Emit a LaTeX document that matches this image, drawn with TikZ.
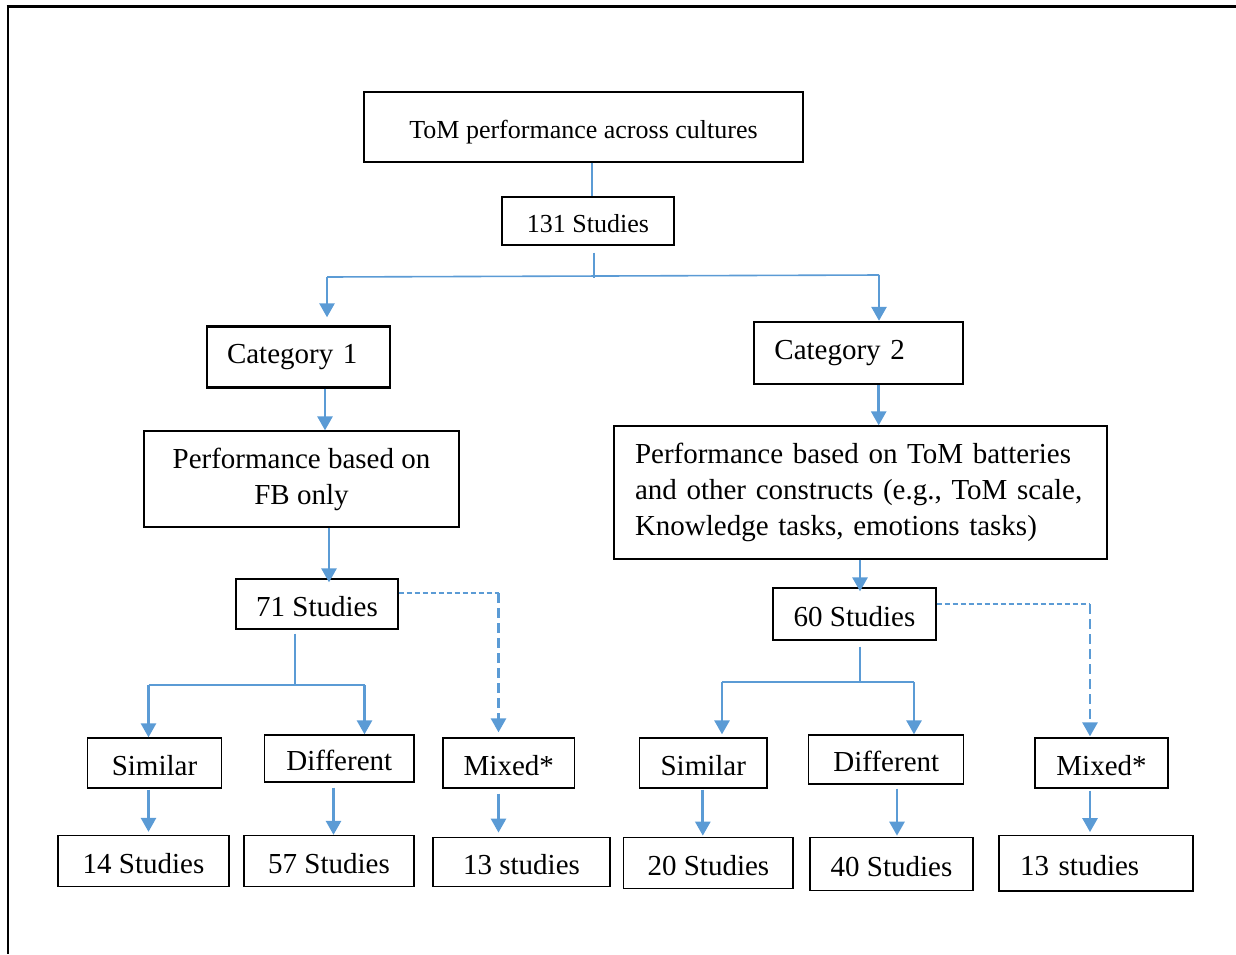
\documentclass[tikz,border=0pt]{standalone}
\usepackage{fontspec}
\setmainfont{Liberation Serif}
\usetikzlibrary{arrows.meta}
\definecolor{blu}{RGB}{91,155,213}
\begin{document}
\begin{tikzpicture}[x=1pt,y=-1pt,
  box/.style={draw=black, line width=1.3pt, inner sep=0pt, font=\fontsize{29}{36}\selectfont, align=center},
  onel/.style={box, text height=24pt, text depth=0pt},
  smallbox/.style={box, font=\fontsize{26}{32}\selectfont, text height=22pt, text depth=0pt},
  catbox/.style={box, line width=2.4pt},
  lnk/.style={draw=blu, line width=1.6pt},
  arr/.style={draw=blu, line width=2.7pt, -{Triangle[length=14pt,width=15pt]}},
  dshh/.style={draw=blu, line width=1.6pt, dash pattern=on 5pt off 3pt},
  dshv/.style={draw=blu, line width=2.7pt, dash pattern=on 10pt off 5pt, -{Triangle[length=14pt,width=15pt]}},
]
\useasboundingbox (0,0) rectangle (1236,954);
% outer frame (top and left only)
\draw[line width=3pt] (6.5,6.5) -- (1236,6.5);
\draw[line width=2pt] (8,5) -- (8,954);

% nodes
\node[smallbox, minimum width=439pt, minimum height=70pt] (title) at (583.5,127) {ToM performance across cultures};
\node[smallbox, minimum width=172pt, minimum height=48pt] (s131) at (588,221) {131 Studies};
\node[catbox, minimum width=183pt, minimum height=61pt, text width=143pt, align=left] (cat1) at (298.5,357) {Category 1};
\node[catbox, minimum width=208.7pt, minimum height=62pt, text width=168pt, align=left] (cat2) at (858.4,353) {Category 2};
\node[box, minimum width=315pt, minimum height=96pt] (fb) at (301.5,479) {Performance based on\\FB only};
\node[box, minimum width=493pt, minimum height=133pt, text width=451pt, align=left] (tomb) at (860.5,492.5) {Performance based on ToM batteries\\and other constructs (e.g., ToM scale,\\Knowledge tasks, emotions tasks)};
\node[onel, minimum width=162pt, minimum height=50pt] (s71) at (317,604) {71 Studies};
\node[onel, minimum width=163pt, minimum height=52pt] (s60) at (854.5,614) {60 Studies};
\node[onel, minimum width=134pt, minimum height=50pt] (simL) at (154.5,763) {Similar};
\node[onel, minimum width=149.5pt, minimum height=47pt] (difL) at (339.3,758.5) {Different};
\node[onel, minimum width=131.6pt, minimum height=50pt] (mixL) at (508.8,763) {Mixed*};
\node[onel, minimum width=127.5pt, minimum height=50pt] (simR) at (703.3,763) {Similar};
\node[onel, minimum width=155pt, minimum height=49pt] (difR) at (886.3,759.5) {Different};
\node[onel, minimum width=133pt, minimum height=50pt] (mixR) at (1101.5,763) {Mixed*};
\node[onel, minimum width=171pt, minimum height=51pt] (n14) at (143.5,861) {14 Studies};
\node[onel, minimum width=170pt, minimum height=51pt] (n57) at (329,861) {57 Studies};
\node[onel, minimum width=177pt, minimum height=49.5pt] (n13L) at (521.5,862) {13 studies};
\node[onel, minimum width=169.3pt, minimum height=51.4pt] (n20) at (708.4,863) {20 Studies};
\node[onel, minimum width=163pt, minimum height=53.4pt] (n40) at (891.5,864) {40 Studies};
\node[onel, minimum width=194pt, minimum height=55.3pt, text width=152pt, align=left] (n13R) at (1096,863.4) {13 studies};

% rail / junction coordinates
\coordinate (a0) at (592,0);
\coordinate (b0) at (594,278);
\coordinate (bL) at (327,277);
\coordinate (bR) at (879,275);
\coordinate (xA) at (325,0);
\coordinate (xB) at (878.7,0);
\coordinate (xC) at (329,0);
\coordinate (xD) at (860,0);
\coordinate (bar71) at (295,685);
\coordinate (xF) at (148.5,0);
\coordinate (xG) at (364.5,0);
\coordinate (xH) at (498.5,0);
\coordinate (xI) at (333.5,0);
\coordinate (bar60) at (860,682);
\coordinate (xJ) at (722,0);
\coordinate (xK) at (914,0);
\coordinate (xL) at (1090,0);
\coordinate (xM) at (702.8,0);
\coordinate (xN) at (897,0);
\coordinate (d1) at (498.5,593);
\coordinate (d2) at (1090,604);

% top part
\draw[lnk] (title.south -| a0) -- (s131.north -| a0);
\draw[lnk, shorten <=7pt] (s131.south -| b0) -- (b0);
\draw[lnk] (bL) -- (bR);
\draw[arr, shorten >=8pt] (bL) -- (bL |- cat1.north);
\draw[arr] (bR) -- (bR |- cat2.north);
\draw[arr] (cat1.south -| xA) -- (fb.north -| xA);
\draw[arr] (cat2.south -| xB) -- (tomb.north -| xB);
\draw[arr, shorten >=-4pt] (fb.south -| xC) -- (s71.north -| xC);
\draw[arr, shorten >=-4pt] (tomb.south -| xD) -- (s60.north -| xD);

% left branch
\draw[lnk, shorten <=4pt] (s71.south -| bar71) -- (bar71);
\draw[lnk] (xF |- bar71) -- (xG |- bar71);
\draw[arr] (xF |- bar71) -- (xF |- simL.north);
\draw[arr] (xG |- bar71) -- (xG |- difL.north);
\draw[dshh] (s71.east |- d1) -- (d1);
\draw[dshv, shorten >=5pt] (d1) -- (d1 |- mixL.north);
\draw[arr, shorten <=1pt, shorten >=3pt] (simL.south -| xF) -- (n14.north -| xF);
\draw[arr, shorten <=5pt] (difL.south -| xI) -- (n57.north -| xI);
\draw[arr, shorten <=5pt, shorten >=4pt] (mixL.south -| xH) -- (n13L.north -| xH);

% right branch
\draw[lnk, shorten <=6pt] (s60.south -| bar60) -- (bar60);
\draw[lnk] (xJ |- bar60) -- (xK |- bar60);
\draw[arr, shorten >=3pt] (xJ |- bar60) -- (xJ |- simR.north);
\draw[arr] (xK |- bar60) -- (xK |- difR.north);
\draw[dshh] (s60.east |- d2) -- (d2);
\draw[dshv, shorten >=1pt] (d2) -- (d2 |- mixR.north);
\draw[arr, shorten <=1pt, shorten >=1pt] (simR.south -| xM) -- (n20.north -| xM);
\draw[arr, shorten <=4pt, shorten >=1pt] (difR.south -| xN) -- (n40.north -| xN);
\draw[arr, shorten <=2pt, shorten >=3pt] (mixR.south -| xL) -- (n13R.north -| xL);
\end{tikzpicture}
\end{document}
